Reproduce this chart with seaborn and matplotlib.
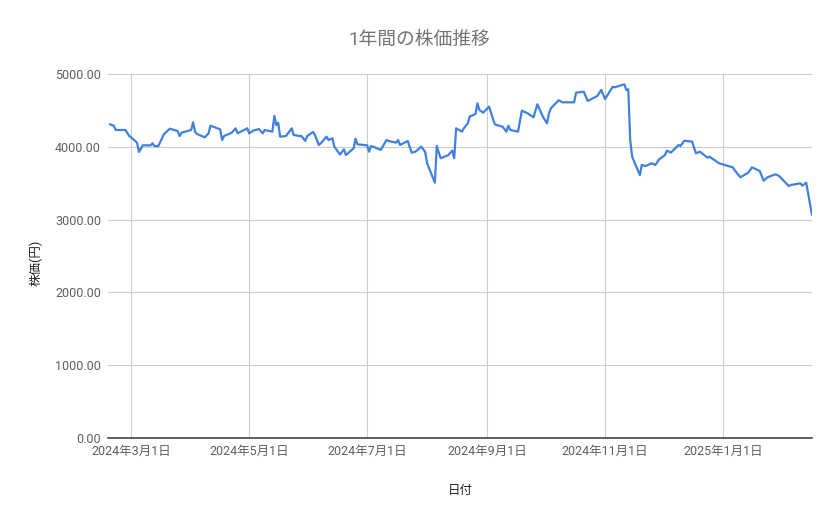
import pandas as pd
import matplotlib
matplotlib.use("Agg")
import matplotlib.pyplot as plt
import matplotlib.dates as mdates
from matplotlib.ticker import FuncFormatter
import seaborn as sns

# Values (date, closing price in yen)
dates = [
    "2024-02-19", "2024-02-21", "2024-02-22", "2024-02-27", "2024-02-29",
    "2024-03-01", "2024-03-04", "2024-03-05", "2024-03-07", "2024-03-11",
    "2024-03-12", "2024-03-13", "2024-03-15", "2024-03-18", "2024-03-21",
    "2024-03-25", "2024-03-26", "2024-03-27", "2024-04-01", "2024-04-02",
    "2024-04-03", "2024-04-04", "2024-04-08", "2024-04-10", "2024-04-11",
    "2024-04-15", "2024-04-16", "2024-04-17", "2024-04-18", "2024-04-22",
    "2024-04-24", "2024-04-25", "2024-04-30", "2024-05-01", "2024-05-03",
    "2024-05-06", "2024-05-08", "2024-05-09", "2024-05-13", "2024-05-14",
    "2024-05-15", "2024-05-16", "2024-05-17", "2024-05-20", "2024-05-23",
    "2024-05-24", "2024-05-27", "2024-05-28", "2024-05-30", "2024-05-31",
    "2024-06-03", "2024-06-04", "2024-06-06", "2024-06-07", "2024-06-10",
    "2024-06-11", "2024-06-13", "2024-06-14", "2024-06-17", "2024-06-19",
    "2024-06-20", "2024-06-24", "2024-06-25", "2024-06-26", "2024-07-01",
    "2024-07-02", "2024-07-03", "2024-07-05", "2024-07-08", "2024-07-11",
    "2024-07-12", "2024-07-16", "2024-07-17", "2024-07-18", "2024-07-22",
    "2024-07-24", "2024-07-26", "2024-07-29", "2024-07-31", "2024-08-01",
    "2024-08-05", "2024-08-06", "2024-08-08", "2024-08-12", "2024-08-14",
    "2024-08-15", "2024-08-16", "2024-08-19", "2024-08-20", "2024-08-22",
    "2024-08-23", "2024-08-26", "2024-08-27", "2024-08-28", "2024-08-30",
    "2024-09-02", "2024-09-05", "2024-09-06", "2024-09-09", "2024-09-11",
    "2024-09-12", "2024-09-13", "2024-09-17", "2024-09-19", "2024-09-22",
    "2024-09-25", "2024-09-27", "2024-09-30", "2024-10-02", "2024-10-03",
    "2024-10-04", "2024-10-08", "2024-10-10", "2024-10-16", "2024-10-17",
    "2024-10-21", "2024-10-23", "2024-10-28", "2024-10-30", "2024-11-01",
    "2024-11-05", "2024-11-06", "2024-11-11", "2024-11-12", "2024-11-13",
    "2024-11-14", "2024-11-15", "2024-11-19", "2024-11-20", "2024-11-22",
    "2024-11-25", "2024-11-27", "2024-11-29", "2024-12-02", "2024-12-03",
    "2024-12-05", "2024-12-09", "2024-12-10", "2024-12-12", "2024-12-16",
    "2024-12-18", "2024-12-20", "2024-12-24", "2024-12-25", "2024-12-27",
    "2024-12-30", "2025-01-06", "2025-01-08", "2025-01-10", "2025-01-14",
    "2025-01-16", "2025-01-20", "2025-01-22", "2025-01-24", "2025-01-28",
    "2025-01-30", "2025-02-04", "2025-02-05", "2025-02-10", "2025-02-11",
    "2025-02-13", "2025-02-16",
]
prices = [
    4309, 4290, 4231, 4231, 4148,
    4130, 4057, 3929, 4020, 4020,
    4048, 4010, 4010, 4176, 4249,
    4217, 4148, 4194, 4231, 4336,
    4208, 4176, 4130, 4185, 4290,
    4249, 4240, 4093, 4148, 4194,
    4254, 4185, 4254, 4185, 4221,
    4244, 4185, 4231, 4208, 4423,
    4299, 4331, 4139, 4148, 4254,
    4162, 4148, 4148, 4080, 4148,
    4203, 4162, 4025, 4048, 4139,
    4093, 4117, 4002, 3895, 3965,
    3887, 3979, 4112, 4034, 4020,
    3933, 4011, 3993, 3956, 4093,
    4080, 4057, 4093, 4025, 4080,
    3920, 3933, 4002, 3929, 3773,
    3507, 4011, 3842, 3887, 3947,
    3842, 4254, 4208, 4254, 4322,
    4414, 4451, 4597, 4506, 4469,
    4551, 4309, 4299, 4276, 4208,
    4290, 4231, 4208, 4496, 4460,
    4405, 4584, 4405, 4322, 4460,
    4529, 4640, 4611, 4611, 4743,
    4757, 4629, 4698, 4780, 4657,
    4826, 4817, 4858, 4780, 4790,
    4093, 3864, 3612, 3750, 3736,
    3773, 3750, 3828, 3887, 3947,
    3920, 4025, 4011, 4084, 4071,
    3910, 3933, 3850, 3864, 3828,
    3773, 3718, 3644, 3581, 3644,
    3718, 3667, 3534, 3581, 3622,
    3599, 3461, 3475, 3498, 3466,
    3507, 3063,
]
y_ticks = [0, 1000, 2000, 3000, 4000, 5000]
tick_months = [1, 3, 5, 7, 9, 11]

df = pd.DataFrame({"日付": pd.to_datetime(dates), "株価(円)": prices})

sns.set_theme(style="white")
plt.rcParams["font.family"] = ["Roboto", "Noto Sans CJK JP", "DejaVu Sans"]

fig = plt.figure(figsize=(8.39, 5.19), dpi=100)
ax = fig.add_axes([108 / 839, 1 - 438 / 519, 704 / 839, 364 / 519])

sns.lineplot(data=df, x="日付", y="株価(円)", ax=ax, color="#4180dc", linewidth=1.6)


def date_label(v, pos):
    d = mdates.num2date(v)
    return f"{d.year}年{d.month}月{d.day}日"


ax.set_ylim(0, 5000)
ax.set_yticks(y_ticks)
ax.yaxis.set_major_formatter(FuncFormatter(lambda v, p: f"{v:.2f}"))
ax.set_xlim(pd.Timestamp("2024-02-18"), df["日付"].max())
ax.xaxis.set_major_locator(mdates.MonthLocator(bymonth=tick_months))
ax.xaxis.set_major_formatter(FuncFormatter(date_label))

ax.grid(True, color="#cccccc", linewidth=0.8)
ax.set_axisbelow(True)
for side in ["top", "right", "left"]:
    ax.spines[side].set_visible(False)
ax.spines["bottom"].set_color("#333333")
ax.spines["bottom"].set_linewidth(1.1)
ax.tick_params(axis="both", length=0, labelsize=9, labelcolor="#5f5f5f")
ax.tick_params(axis="x", pad=5)
ax.tick_params(axis="y", pad=5)

ax.set_xlabel("日付", fontsize=9, color="#222222", labelpad=19)
ax.set_ylabel("株価(円)", fontsize=9, color="#222222", labelpad=10)
ax.yaxis.set_label_coords(-0.093, 0.48)

fig.text(0.5, 1 - 40 / 519, "1年間の株価推移", ha="center", va="center",
         fontsize=13.5, color="#757575")

fig.savefig("out.png", dpi=100, facecolor="white")
